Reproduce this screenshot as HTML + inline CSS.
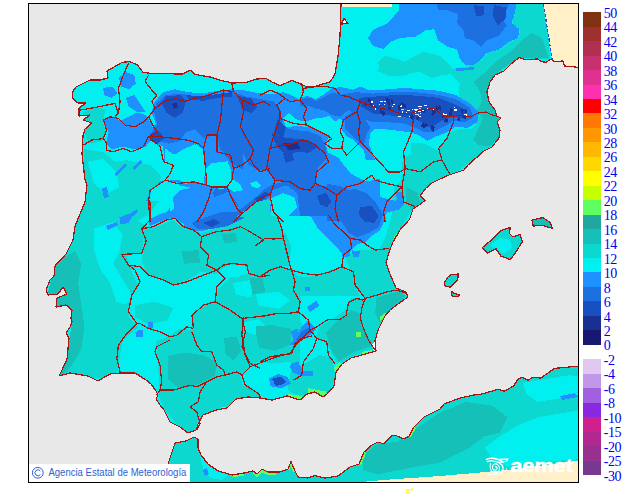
<!DOCTYPE html>
<html><head><meta charset="utf-8"><title>Temperatura</title>
<style>
html,body{margin:0;padding:0;background:#fff;}
body{width:630px;height:500px;overflow:hidden;position:relative;font-family:"Liberation Sans",sans-serif;}
svg{position:absolute;left:0;top:0;display:block;}
.lg text{font-family:"Liberation Serif",serif;font-size:14px;fill:#0000F0;letter-spacing:-0.45px;}
</style></head><body>
<svg width="630" height="500" viewBox="0 0 630 500" shape-rendering="crispEdges">
<defs><clipPath id="fr"><rect x="29" y="4" width="549" height="478"/></clipPath></defs>
<rect x="29" y="4" width="549" height="478" fill="#E8E8E8"/>
<g clip-path="url(#fr)" stroke-linejoin="round">
<clipPath id="land"><path d="M341,3 L340,36 L338,56 L335,74 L332,79 L330,82 L323,84 L313,87 L306,86.5 L302,84.5 L292,80.4 L280,85.6 L272,82 L266,78.4 L257,79 L246,82.4 L234,83 L223,81 L210,77 L195,74.4 L190,70 L183,74 L152,73.6 L143,72.4 L137,64.4 L129,61.6 L122,62.4 L115,66.4 L107,71 L108,78 L100,80 L90,80 L84,83 L76,87 L72.4,92 L73,99 L78,103 L86,103 L79,108 L79,116 L90,115 L83,120 L92,123 L85,129 L83,136 L82,154 L85,180 L87,185 L85,202 L80,214 L75,226 L73,240 L66,254 L55,266 L54,276 L50,280 L46,290 L48,295 L58,294 L63,287 L67,294 L57,298 L56,307 L66,305 L72,310 L71,318 L72,322 L70,327 L66,333 L69,338 L67,359 L62,370 L59,376 L70,373 L88,376 L98,381 L110,374 L120,373 L135,373 L146,380 L151,384 L156,391 L158,395 L156,399 L160,405 L164,410 L170,422 L180,427 L188,433 L196,430 L198,424 L203,415 L216,410 L227,408 L236,399 L248,397 L260,398 L272,400 L287,396 L300,400 L307,394 L315,392 L323,397 L327,394 L334,386 L336,372 L342,364 L351,358 L362,355 L376,351 L375,341 L378,330 L385,316 L390,310 L398,304 L408,297 L406,292 L396,288 L390,274 L386,263 L389,252 L393,242 L400,230 L409,220 L410,218 L413,209 L419,205 L425,200.4 L420,196 L426,188 L432,183 L440,179 L449,175 L464,170 L468,165 L476,158 L484,151 L492,147 L499,138 L500,130 L497,122 L501,118 L497,116 L495,110 L489,102 L487,92 L490,82 L495,75 L504,71 L511,64 L519,57.6 L526,59.6 L538,59 L540,61 L546,62.5 L551,59 L554,61.7 L563,61 L564.6,66 L579,67.4 L579,3Z"/><path d="M160,483 L168,464 L175,443 L186,441 L194,437 L198,439 L198,448 L201,455 L208,464 L218,471 L232,475 L244,473 L253,471 L257,474 L262,469 L268,472 L280,472 L288,469 L291,461.6 L295,471 L298,477 L308,478 L315,475.6 L325,478 L338,476 L350,467 L359,464 L364,452 L372,445 L378,442 L384,444 L391,436 L396,435.6 L404,439 L409,436 L414,427 L424,417 L440,409 L444,404 L460,398 L474,395 L480,394.5 L498.4,389.2 L504,391.3 L513.6,386 L518.4,378.8 L522.4,377.2 L528,380.4 L532,377.5 L540.8,378 L548.8,372.4 L554.4,368.4 L563.2,367.6 L579,366 L579,483Z"/><path d="M482.3,247.6 L492.4,239.2 L500.8,230.8 L510.4,227.2 L509.2,233.2 L512.8,236.8 L520,234.4 L522.4,241.6 L516.4,251.2 L510.4,259.6 L500.8,256 L496,248.8 L487.6,252.9Z"/><path d="M532,220 L542.8,217.6 L550,222.4 L552.4,228.4 L542.8,225.5 L533.2,226Z"/><path d="M444.4,282.4 L448,277 L451.6,274.5 L458.3,274 L457.6,280 L450.4,287.2 L445,286Z"/><path d="M451.6,291 L453,293 L460,295 L458,296.8 L452,296Z"/></clipPath>
<g clip-path="url(#land)">
<path d="M341,3 L340,36 L338,56 L335,74 L332,79 L330,82 L323,84 L313,87 L306,86.5 L302,84.5 L292,80.4 L280,85.6 L272,82 L266,78.4 L257,79 L246,82.4 L234,83 L223,81 L210,77 L195,74.4 L190,70 L183,74 L152,73.6 L143,72.4 L137,64.4 L129,61.6 L122,62.4 L115,66.4 L107,71 L108,78 L100,80 L90,80 L84,83 L76,87 L72.4,92 L73,99 L78,103 L86,103 L79,108 L79,116 L90,115 L83,120 L92,123 L85,129 L83,136 L82,154 L85,180 L87,185 L85,202 L80,214 L75,226 L73,240 L66,254 L55,266 L54,276 L50,280 L46,290 L48,295 L58,294 L63,287 L67,294 L57,298 L56,307 L66,305 L72,310 L71,318 L72,322 L70,327 L66,333 L69,338 L67,359 L62,370 L59,376 L70,373 L88,376 L98,381 L110,374 L120,373 L135,373 L146,380 L151,384 L156,391 L158,395 L156,399 L160,405 L164,410 L170,422 L180,427 L188,433 L196,430 L198,424 L203,415 L216,410 L227,408 L236,399 L248,397 L260,398 L272,400 L287,396 L300,400 L307,394 L315,392 L323,397 L327,394 L334,386 L336,372 L342,364 L351,358 L362,355 L376,351 L375,341 L378,330 L385,316 L390,310 L398,304 L408,297 L406,292 L396,288 L390,274 L386,263 L389,252 L393,242 L400,230 L409,220 L410,218 L413,209 L419,205 L425,200.4 L420,196 L426,188 L432,183 L440,179 L449,175 L464,170 L468,165 L476,158 L484,151 L492,147 L499,138 L500,130 L497,122 L501,118 L497,116 L495,110 L489,102 L487,92 L490,82 L495,75 L504,71 L511,64 L519,57.6 L526,59.6 L538,59 L540,61 L546,62.5 L551,59 L554,61.7 L563,61 L564.6,66 L579,67.4 L579,3Z" fill="#00F0F0"/>
<path d="M160,483 L168,464 L175,443 L186,441 L194,437 L198,439 L198,448 L201,455 L208,464 L218,471 L232,475 L244,473 L253,471 L257,474 L262,469 L268,472 L280,472 L288,469 L291,461.6 L295,471 L298,477 L308,478 L315,475.6 L325,478 L338,476 L350,467 L359,464 L364,452 L372,445 L378,442 L384,444 L391,436 L396,435.6 L404,439 L409,436 L414,427 L424,417 L440,409 L444,404 L460,398 L474,395 L480,394.5 L498.4,389.2 L504,391.3 L513.6,386 L518.4,378.8 L522.4,377.2 L528,380.4 L532,377.5 L540.8,378 L548.8,372.4 L554.4,368.4 L563.2,367.6 L579,366 L579,483Z" fill="#00F0F0"/>
<path d="M482.3,247.6 L492.4,239.2 L500.8,230.8 L510.4,227.2 L509.2,233.2 L512.8,236.8 L520,234.4 L522.4,241.6 L516.4,251.2 L510.4,259.6 L500.8,256 L496,248.8 L487.6,252.9Z" fill="#00F0F0"/>
<path d="M532,220 L542.8,217.6 L550,222.4 L552.4,228.4 L542.8,225.5 L533.2,226Z" fill="#00F0F0"/>
<path d="M444.4,282.4 L448,277 L451.6,274.5 L458.3,274 L457.6,280 L450.4,287.2 L445,286Z" fill="#00F0F0"/>
<path d="M451.6,291 L453,293 L460,295 L458,296.8 L452,296Z" fill="#00F0F0"/>
<path d="M515.6,2.5 L547.3,2.5 L549.8,59.7 L519.4,57.9 L506.7,66 L496.5,73.7 L488.9,83.8 L487.6,101.6 L496.5,111.7 L496.5,127 L476.2,127 L473.7,109.2 L466,101.6 L458.4,100.3 L459.7,83.8 L450.8,73.7 L453.3,68.6 L466,66.5 L481.3,61 L487.6,53.3 L500.3,49.5 L510.5,41.9 L518.9,38.1 L519.9,29.2 L512.3,22.9 L514.8,15.2Z" fill="#0CD8D0"/>
<path d="M377.1,71.1 L384.8,61 L400,66 L410.2,58.4 L422.9,52.1 L435.6,54.6 L448.3,63.5 L454.6,71.6 L445.7,75.4 L430.5,69.8 L415.2,72.4 L405.1,75.4 L389.8,76.2Z" fill="#0CD8D0"/>
<path d="M378,62 L384,56 L395,58 L405,62 L418,58 L424,52 L440,56 L446,62 L446,74 L432,78 L420,72 L405,72 L392,68 L380,68Z" fill="#0CD8D0"/>
<path d="M450.2,132.2 L458.8,129.4 L470.2,129.4 L478.8,123.6 L484.5,112.2 L496,112.2 L501.7,120.8 L500.3,136.5 L490.3,146.5 L478.8,155.1 L467.4,163.7 L455.9,172.3 L444.5,175.2 L440.2,160.9 L438.7,149.4 L444.5,140.8Z" fill="#0CD8D0"/>
<path d="M411.6,142.3 L424.4,143.7 L435.9,149.4 L438.7,158 L427.3,163.7 L415.9,166.6 L410.1,158Z" fill="#0CD8D0"/>
<path d="M401.5,175.2 L415.9,172.3 L433,166.6 L450.2,175.2 L430.2,183.7 L421.6,195.2 L425.9,200.9 L415.9,209.5 L404.4,206.6 L398.7,192.3Z" fill="#0CD8D0"/>
<path d="M82.9,112.2 L94.3,106.5 L105.8,109.4 L102.9,120.8 L105.8,132.3 L102.9,140.9 L91.5,143.7 L85.8,138Z" fill="#0CD8D0"/>
<path d="M142.9,230.1 L158.6,225.8 L172.9,220.1 L181.5,225.8 L201.5,232.9 L215.9,228.6 L230.2,224.4 L244.5,214.3 L255.9,207.2 L268.8,201.5 L273.1,211.5 L278.8,222.9 L284.5,234.4 L288.8,251.5 L290.3,265.9 L278.8,265.9 L264.5,274.4 L250.2,274.4 L244.5,265.9 L230.2,264.4 L221.6,268.7 L215.9,274.4 L201.5,271.6 L187.2,280.2 L172.9,284.5 L158.6,277.3 L147.2,274.4 L141.4,260.1 L144.3,245.8Z" fill="#0CD8D0"/>
<path d="M218.7,288.7 L230.2,277.3 L250.2,277.3 L273.1,268.7 L290.3,268.7 L296,283 L301.7,300.2 L298.8,314.5 L284.5,317.4 L267.4,314.5 L250.2,314.5 L238.7,317.4 L227.3,308.8 L215.9,300.2Z" fill="#0CD8D0"/>
<path d="M394.5,187.2 L403.1,178.6 L423.1,187.2 L420.2,202.9 L411.6,210.1 L403.1,224.4 L394.5,235.9 L390.2,250.2 L385.9,264.5 L393,281.6 L403.1,295.9 L365.9,295.9 L360.1,275.9 L365.9,264.5 L377.3,253 L385.9,235.9 L390.2,221.5 L393,207.2Z" fill="#0CD8D0"/>
<path d="M403.1,158.6 L414.5,152.9 L437.4,150 L460,150 L460,170 L448.8,174.3 L434.5,177.2 L417.4,184.3 L405.9,178.6 L401.6,167.2Z" fill="#0CD8D0"/>
<path d="M277.1,264.5 L291.4,270.2 L297.2,275.9 L308.6,277.3 L322.9,273.1 L341.5,267.3 L353,273.1 L354.4,284.5 L360.1,295.9 L277.1,295.9Z" fill="#0CD8D0"/>
<path d="M277.1,230.1 L285.7,233 L291.4,247.3 L288.6,264.5 L277.1,264.5Z" fill="#0CD8D0"/>
<path d="M84.5,149.1 L103.6,152.3 L122.7,168.2 L135.4,187.3 L122.7,209.5 L144.9,225.4 L141.7,254.1 L125.9,254.1 L132.2,273.1 L138.6,285.9 L129,301.7 L129,317.6 L138.6,327.2 L122.7,339.9 L116.3,378.1 L59.1,378.1 L70.2,336.7 L71.8,311.3 L55.9,304.9 L47.9,292.2 L54.3,266.8 L65.4,254.1 L75,228.6 L79.7,209.5Z" fill="#0CD8D0"/>
<path d="M135.4,304.9 L154.5,301.7 L173.5,308.1 L167.2,320.8 L148.1,324 L135.4,317.6Z" fill="#0CD8D0"/>
<path d="M192.6,320.8 L218.1,317.6 L230.8,327.2 L243.5,333.5 L243.5,362.2 L205.3,362.2 L199,339.9Z" fill="#0CD8D0"/>
<path d="M157.2,350.9 L155.6,341.3 L168.4,336.6 L179.5,328.6 L192.2,330.2 L192.2,315.9 L208.1,303.2 L214.5,300 L300,300 L300,363.6 L287.6,362 L271.7,363.6 L259,360.4 L249.4,368.4 L239.9,374.7 L243.1,385.9 L259,392.2 L259,397 L236.7,398.6 L227.2,406.5 L220.8,409.7 L208.1,411.3 L198.6,417.6 L195.4,430.4 L187.4,432 L176.3,424 L163.6,408.1 L158.8,395.4 L158.8,379.5Z" fill="#0CD8D0"/>
<path d="M319.5,326.3 L335.4,316.8 L344.9,310.4 L351.3,297.7 L364,300.9 L376.7,294.5 L399,289.7 L406.9,296.1 L386.3,313.6 L376.7,332.7 L373.5,348.6 L351.3,356.5 L338.6,364.5 L332.2,354.9 L325.9,342.2 L316.3,335.9Z" fill="#0CD8D0"/>
<path d="M344.9,256.4 L357.6,250 L389.4,250 L389.4,265.9 L395.8,285 L376.7,294.5 L364,297.7 L357.6,288.2 L351.3,272.3Z" fill="#0CD8D0"/>
<path d="M240,275.4 L255.9,272.3 L271.8,269.1 L290.9,272.3 L297.2,281.8 L294.1,294.5 L298.8,310.4 L278.2,313.6 L259.1,316.8 L240,318.4Z" fill="#0CD8D0"/>
<path d="M240,323.1 L259.1,320 L278.2,318.4 L297.2,316.8 L303.6,326.3 L294.1,339 L287.7,348.6 L271.8,354.9 L255.9,361.3 L246.4,367.6 L240,358.1Z" fill="#0CD8D0"/>
<path d="M290.9,370.8 L303.6,364.5 L319.5,354.9 L332.2,358.1 L335.4,377.2 L329,393.1 L313.1,393.1 L297.2,396.3 L287.7,389.9Z" fill="#0CD8D0"/>
<path d="M160,483 L168,464 L175,443 L186,441 L194,437 L198,439 L198,448 L201,455 L208,464 L218,471 L232,475 L244,473 L253,471 L257,474 L262,469 L268,472 L280,472 L288,469 L291,461.6 L295,471 L298,477 L308,478 L315,475.6 L325,478 L338,476 L350,467 L359,464 L364,452 L372,445 L378,442 L384,444 L391,436 L396,435.6 L404,439 L409,436 L414,427 L424,417 L440,409 L444,404 L460,398 L474,395 L480,394.5 L498.4,389.2 L504,391.3 L513.6,386 L518.4,378.8 L522.4,377.2 L528,380.4 L532,377.5 L540.8,378 L548.8,372.4 L554.4,368.4 L563.2,367.6 L579,366 L579,483Z" fill="#0CD8D0"/>
<path d="M482.3,247.6 L492.4,239.2 L500.8,230.8 L510.4,227.2 L509.2,233.2 L512.8,236.8 L520,234.4 L522.4,241.6 L516.4,251.2 L510.4,259.6 L500.8,256 L496,248.8 L487.6,252.9Z" fill="#0CD8D0"/>
<path d="M532,220 L542.8,217.6 L550,222.4 L552.4,228.4 L542.8,225.5 L533.2,226Z" fill="#14C0B8"/>
<path d="M444.4,282.4 L448,277 L451.6,274.5 L458.3,274 L457.6,280 L450.4,287.2 L445,286Z" fill="#0CD8D0"/>
<path d="M451.6,291 L453,293 L460,295 L458,296.8 L452,296Z" fill="#0CD8D0"/>
<path d="M100,165 L125,160 L150,165 L165,180 L160,200 L148,215 L130,225 L110,222 L100,200Z" fill="#0CD8D0"/>
<path d="M524.4,38.1 L532.1,33 L542.2,38.1 L548.6,58.4 L519.4,57.9 L506.7,66 L496.5,73.7 L488.9,83.8 L487.6,101.6 L496.5,111.7 L496.5,120.6 L485.1,120.6 L476.2,111.7 L481.8,101.6 L480,91.4 L473.7,81.3 L483.8,73.7 L496.5,61 L511.7,50.8Z" fill="#14C0B8"/>
<path d="M484.5,113.6 L496,113.6 L501.1,120.8 L500.3,136.5 L490.3,146.5 L478.8,145.1 L473.1,139.4 L478.8,127.9Z" fill="#14C0B8"/>
<path d="M233,283 L250.2,280.2 L255.9,288.7 L250.2,297.3 L235.9,294.5Z" fill="#00F0F0"/>
<path d="M255.9,294.5 L278.8,291.6 L290.3,300.2 L278.8,308.8 L258.8,305.9Z" fill="#00F0F0"/>
<path d="M221.6,234.4 L235.9,232.9 L237.3,241.5 L224.4,243.5Z" fill="#14C0B8"/>
<path d="M181.5,251.5 L198.7,250.1 L200.1,263 L184.4,263.6Z" fill="#14C0B8"/>
<path d="M405.9,187.2 L417.4,192.9 L420.2,202.9 L411.6,210.1 L405.9,201.5Z" fill="#14C0B8"/>
<path d="M394.5,235.9 L397.3,233 L395.9,240.1 L393,243Z" fill="#60FF60"/>
<path d="M94.1,228.6 L113.1,222.3 L122.7,235 L119.5,250.9 L113.1,263.6 L122.7,279.5 L132.2,295.4 L125.9,304.9 L116.3,301.7 L110,282.7 L100.4,270 L94.1,250.9Z" fill="#00F0F0"/>
<path d="M87.7,161.8 L103.6,158.7 L116.3,171.4 L119.5,187.3 L106.8,193.6 L94.1,184.1Z" fill="#00F0F0"/>
<path d="M54.3,268.4 L65.4,257.2 L75,250.9 L81.3,263.6 L78.2,282.7 L81.3,304.9 L84.5,327.2 L81.3,349.4 L71.8,365.3 L59.1,378.1 L70.2,336.7 L71.8,311.3 L55.9,304.9 L47.9,292.2Z" fill="#14C0B8"/>
<path d="M243.1,322.3 L259,319.1 L265.3,325.4 L255.8,335 L246.3,331.8Z" fill="#00F0F0"/>
<path d="M168.4,355.6 L185.9,352.5 L204.9,355.6 L217.6,363.6 L214.5,376.3 L195.4,385.9 L179.5,389 L168.4,379.5Z" fill="#14C0B8"/>
<path d="M224,338.2 L236.7,336.6 L241.5,350.9 L233.5,360.4 L225.6,354.1Z" fill="#14C0B8"/>
<path d="M255.8,331.8 L271.7,325.4 L290.8,328.6 L290.8,344.5 L274.9,350.9 L259,347.7Z" fill="#14C0B8"/>
<path d="M325.9,332.7 L338.6,320 L351.3,310.4 L360.8,313.6 L364,329.5 L373.5,345.4 L354.5,351.7 L338.6,361.3 L330.6,348.6Z" fill="#14C0B8"/>
<path d="M376.7,297.7 L399,291.3 L405.3,296.1 L386.3,313.6 L379.9,323.1 L375.1,313.6Z" fill="#14C0B8"/>
<path d="M249.5,278.6 L262.3,277 L265.4,291.3 L252.7,294.5Z" fill="#14C0B8"/>
<path d="M255.9,326.3 L275,324.7 L281.3,335.9 L268.6,345.4 L257.5,342.2Z" fill="#14C0B8"/>
<path d="M362.9,455.2 L378.1,443.8 L397.1,441.9 L416.2,428.6 L439,413.3 L465.7,401.9 L492.4,405.7 L507.6,417.1 L500,432.4 L484.8,436.2 L469.5,447.6 L454.3,455.2 L439,462.9 L416.2,466.7 L397.1,470.5 L378.1,474.3 L362.9,470.5Z" fill="#14C0B8"/>
<path d="M500,436.2 L519,424.8 L538.1,417.1 L561,413.3 L583.8,409.5 L583.8,459 L553.3,461 L530.5,462.9 L507.6,466.7 L492.4,459 L484.8,447.6Z" fill="#00F0F0"/>
<path d="M522.9,382.9 L545.7,379 L568.6,375.2 L583.8,377.1 L583.8,394.3 L561,398.1 L538.1,401.9 L526.7,394.3Z" fill="#00F0F0"/>
<path d="M200,456 L206,452 L212,462 L220,470 L228,474 L222,480 L210,478 L203,468Z" fill="#00F0F0"/>
<path d="M490,245 L500,238 L510,240 L512,248 L504,254 L496,250Z" fill="#00F0F0"/>
<path d="M398.7,2.5 L398.7,38.1 L415.2,36.8 L425.4,30.5 L434.3,29.2 L438.1,40.6 L448.3,47 L457.1,49.5 L459.7,58.4 L464.8,64.8 L473.7,64.8 L481.3,59.7 L486.3,53.3 L499,49.5 L509.2,41.9 L518.1,38.1 L519.4,29.2 L511.7,22.9 L514.3,15.2 L516.8,2.5Z" fill="#1E90FF"/>
<path d="M455.9,68.1 L473.7,67.3 L473.7,69.8 L455.9,71.1Z" fill="#1E90FF"/>
<path d="M400,3 L400,9 L388,23 L373,30 L368,38 L373,46 L384,49 L390,42 L400,38 L400,3Z" fill="#1E90FF"/>
<path d="M358.6,87.9 L370.1,90.7 L387.2,89.3 L404.4,87.9 L421.6,89.3 L438.7,90.7 L455.9,95 L470.2,103.6 L478.8,112.2 L477.4,122.2 L467.4,127.9 L455.9,126.5 L447.3,132.2 L435.9,136.5 L427.3,140.8 L418.7,135.1 L410.1,132.2 L398.7,130.8 L387.2,129.4 L375.8,129.4 L367.2,126.5 L358.6,132.2Z" fill="#1E90FF"/>
<path d="M327.1,152.3 L338.6,158 L347.2,169.4 L355.8,180.9 L364.3,186.6 L372.9,195.2 L384.4,198.1 L395.8,200.9 L401.5,195.2 L404.4,203.8 L398.7,209.5 L387.2,212.4 L381.5,220.9 L327.1,220.9Z" fill="#1E90FF"/>
<path d="M197.1,94.3 L214.3,91.5 L228.6,92.9 L242.9,90 L257.2,92.9 L271.5,94.3 L283,92.3 L291.6,95.2 L300.2,99.5 L308.7,103.8 L317.3,102.1 L325.9,97.8 L334.5,92.3 L334.5,112.9 L325.9,117.2 L314.5,118.6 L305.9,121.5 L297.3,120.1 L288.7,112.9 L283,118.6 L285.9,127.2 L297.3,125.8 L308.7,127.2 L320.2,131.5 L328.8,137.3 L325.9,144.4 L328.8,155.9 L334.5,164.4 L343.1,167.3 L354.5,175.9 L366,181.6 L380,178.7 L380,215.9 L197.1,215.9Z" fill="#1E90FF"/>
<path d="M300,97.6 L308,96 L316,99.2 L324,94.4 L332,88 L341.6,87.2 L352.8,89.6 L360.8,86.4 L367.2,89.6 L376.8,91.2 L400,91.2 L400,121.6 L394.4,126.4 L386.4,129.6 L375.2,128 L370.4,132.8 L368.8,144 L372,152 L375.2,160 L365.6,160 L364,150.4 L357.6,144 L352.8,139.2 L346.4,136 L341.6,129.6 L343.2,121.6 L340,118.4 L335.2,121.6 L330.4,116.8 L324,112 L317.6,110.4 L311.2,107.2 L304.8,108.8 L300,107.2Z" fill="#1E90FF"/>
<path d="M154.4,102.2 L163,92.2 L174.5,89.3 L188.8,92.2 L203.1,93.6 L217.4,90.8 L231.7,89.3 L243.2,90.8 L243.2,200.9 L145.9,200.9 L151.6,189.5 L160.2,180.9 L164.5,160.9 L163,146.6 L151.6,140.9 L148.7,132.3 L155.9,123.7 L151.6,112.2Z" fill="#1E90FF"/>
<path d="M118.7,77.9 L125.8,72.2 L134.4,75 L135.8,83.6 L128.7,89.3 L121.5,86.5Z" fill="#1E90FF"/>
<path d="M102.9,87.9 L112.9,86.5 L117.2,93.6 L111.5,97.9 L104.4,95.1Z" fill="#1E90FF"/>
<path d="M102.9,120.8 L111.5,116.5 L120.1,120.8 L128.7,116.5 L137.3,112.2 L145.9,115.1 L151.6,123.7 L154.4,135.1 L145.9,146.6 L134.4,149.4 L123,146.6 L111.5,149.4 L105.8,143.7 L108.6,132.3Z" fill="#1E90FF"/>
<path d="M125.8,97.9 L134.4,95.1 L140.1,103.6 L145.9,112.2 L137.3,112.2 L128.7,106.5Z" fill="#1E90FF"/>
<path d="M150,225.8 L148.6,220.1 L155.8,215.8 L167.2,211.5 L172.9,202.9 L175.8,192.9 L182.9,185.7 L190.1,177.1 L313.2,177.1 L313.2,192.9 L301.7,187.2 L284.5,184.3 L273.1,188.6 L267.4,194.3 L255.9,201.5 L250.2,207.2 L241.6,214.3 L230.2,222.9 L215.9,227.2 L201.5,231.5 L190.1,230.1 L181.5,224.4 L172.9,217.2 L164.3,220.1Z" fill="#1E90FF"/>
<path d="M277.1,147.1 L325.8,147.1 L330.1,158.6 L337.2,167.2 L348.7,175.8 L357.3,181.5 L365.9,185.8 L374.4,195.8 L383,207.2 L385.9,218.7 L380.2,230.1 L371.6,235.9 L365.9,241.6 L357.3,244.4 L351.5,250.2 L348.7,255.9 L341.5,253 L334.4,244.4 L325.8,235.9 L317.2,227.3 L311.5,217.3 L302.9,211.5 L294.3,210.1 L285.7,213 L277.1,207.2Z" fill="#1E90FF"/>
<path d="M395.9,192.9 L401.6,191.5 L403.1,200.1 L397.3,201.5Z" fill="#1E90FF"/>
<path d="M351.5,250.2 L360.1,251.6 L358.7,257.3 L353,256.5Z" fill="#1E90FF"/>
<path d="M119.5,217.5 L127.4,214.3 L129,219.1 L121.1,222.3Z" fill="#1E90FF"/>
<path d="M135.4,332 L141.7,330.4 L142.4,336.7 L136,337.4Z" fill="#1E90FF"/>
<path d="M148.1,324 L151.9,324 L151.9,328.8 L148.1,328.8Z" fill="#1E90FF"/>
<path d="M138.2,330.2 L142.9,330.2 L142.9,336.6 L138.2,336.6Z" fill="#1E90FF"/>
<path d="M147.7,322.3 L152.5,322.3 L152.5,328 L147.7,328Z" fill="#1E90FF"/>
<path d="M270.1,377.9 L278.1,374.7 L287.6,377.9 L289.2,384.3 L278.1,387.4 L270.1,385.9Z" fill="#1E90FF"/>
<path d="M290.8,363.6 L298.7,362 L300,370 L292.4,371.5Z" fill="#1E90FF"/>
<path d="M290.8,331.8 L297.1,328.6 L300,335 L294,341.3Z" fill="#1E90FF"/>
<path d="M289.3,345.4 L295.6,335.9 L302,326.3 L308.4,320 L316.3,329.5 L310,335.9 L302,339 L295.6,345.4Z" fill="#1E90FF"/>
<path d="M306.8,307.2 L316.3,300.9 L319.5,305.6 L310,312Z" fill="#1E90FF"/>
<path d="M305.2,286.6 L310,286.6 L310,291.3 L305.2,291.3Z" fill="#1E90FF"/>
<path d="M289.3,366.1 L297.2,361.3 L303.6,370.8 L313.1,370.8 L313.1,375.6 L300.4,375.6 L292.5,372.4Z" fill="#1E90FF"/>
<path d="M268.6,378.8 L278.2,374 L287.7,377.2 L290.9,383.5 L281.3,388.3 L271.8,386.7Z" fill="#1E90FF"/>
<path d="M341.7,250 L349.7,250 L349.7,256.4 L342.4,257Z" fill="#1E90FF"/>
<path d="M203,470 L207,468 L209,474 L205,476Z" fill="#1E90FF"/>
<path d="M560,396 L575,393 L578,397 L562,400Z" fill="#1E90FF"/>
<path d="M114,174 L124,164 L127,165 L117,176Z" fill="#1E90FF"/>
<path d="M102,188 L107,187 L109,197 L104,198Z" fill="#1E90FF"/>
<path d="M120,220 L136,210 L138,212 L124,223Z" fill="#1E90FF"/>
<path d="M106,226 L117,222 L118,225 L108,230Z" fill="#1E90FF"/>
<path d="M132,168 L140,160 L142,162 L135,170Z" fill="#1E90FF"/>
<path d="M436.8,2.5 L438.1,10.2 L447,10.2 L458.4,14 L457.1,22.9 L463.5,30.5 L464.8,38.1 L473.7,40.6 L481.3,47 L486.3,40.6 L499,35.6 L506.7,25.4 L501.6,17.8 L506.7,10.2 L509.2,2.5Z" fill="#1C70E0"/>
<path d="M338.6,95 L355.8,92.2 L372.9,93.6 L393,92.2 L415.9,92.2 L438.7,95 L455.9,99.3 L470.2,107.9 L473.1,117.9 L464.5,122.2 L453.1,120.8 L444.5,126.5 L433,132.2 L424.4,132.2 L415.9,127.9 L404.4,123.6 L387.2,122.2 L372.9,122.2 L361.5,117.9 L352.9,112.2 L341.4,106.5 L332.9,103.6Z" fill="#1C70E0"/>
<path d="M327.1,183.7 L341.4,186.6 L352.9,192.3 L364.3,198.1 L372.9,206.6 L375.8,220.9 L327.1,220.9Z" fill="#1C70E0"/>
<path d="M220,98.6 L242.9,95.8 L257.2,98.6 L274.4,101.5 L280.1,112.9 L283,127.2 L294.4,130.1 L308.7,131.5 L320.2,135.8 L325.9,147.3 L325.9,158.7 L317.3,167.3 L314.5,184.5 L325.9,187.3 L334.5,195.9 L337.4,215.9 L300.2,215.9 L297.3,193.1 L285.9,184.5 L274.4,178.7 L268.7,170.2 L257.2,170.2 L248.6,164.4 L242.9,153 L237.2,141.5 L228.6,153 L220,150.1 L217.2,133 L220,115.8Z" fill="#1C70E0"/>
<path d="M344.8,116.8 L352.8,112 L364,116.8 L370.4,128 L367.2,132.8 L364,144 L357.6,140.8 L351.2,134.4 L344.8,128Z" fill="#1C70E0"/>
<path d="M300,99.2 L309.6,97.6 L316,100.8 L325.6,96 L332,92.8 L340,94.4 L348,99.2 L352.8,104 L348,110.4 L340,116.8 L332,115.2 L324,110.4 L316,108.8 L308,105.6 L300,106.4Z" fill="#1C70E0"/>
<path d="M155.9,103.6 L165.9,95.1 L180.2,93.6 L194.5,96.5 L208.8,95.1 L223.1,93.6 L231.7,92.2 L243.2,95.1 L243.2,169.5 L231.7,163.7 L223.1,152.3 L220.3,140.9 L214.5,135.1 L203.1,138 L194.5,129.4 L185.9,132.3 L180.2,140.9 L168.7,143.7 L157.3,140.9 L151.6,132.3 L157.3,123.7 L154.4,112.2Z" fill="#1C70E0"/>
<path d="M190.1,222.9 L195.8,214.3 L204.4,205.8 L210.1,197.2 L215.9,188.6 L224.4,187.2 L233,197.2 L238.7,205.8 L235.9,214.3 L227.3,220.1 L215.9,225.8 L201.5,230.1Z" fill="#1C70E0"/>
<path d="M253.1,201.5 L261.6,191.4 L270.2,185.7 L278.8,182.9 L296,184.3 L310,190 L310,192.9 L301.7,188.6 L284.5,185.7 L273.1,190 L264.5,197.2 L255.9,204.3Z" fill="#1C70E0"/>
<path d="M277.1,147.1 L322.9,147.1 L327.2,158.6 L318.6,167.2 L311.5,175.8 L300,178.6 L288.6,175.8 L277.1,178.6Z" fill="#1C70E0"/>
<path d="M317.2,187.2 L328.6,185.8 L337.2,195.8 L337.2,210.1 L330.1,218.7 L322.9,213 L315.8,201.5Z" fill="#1C70E0"/>
<path d="M341.5,192.9 L354.4,188.6 L365.9,192.9 L375.9,202.9 L383,214.4 L378.7,227.3 L368.7,233 L357.3,237.3 L348.7,233 L341.5,221.5 L337.2,207.2Z" fill="#1C70E0"/>
<path d="M295.6,340.6 L302,331.1 L308.4,327.9 L311.5,332 L303.6,336.5 L298.8,342.2Z" fill="#1C70E0"/>
<path d="M473.7,5.1 L483.8,6.3 L483.8,15.2 L476.2,16.5Z" fill="#1850C0"/>
<path d="M494,5.1 L506.7,7.6 L505.4,19 L497.8,25.4 L492.7,15.2Z" fill="#1850C0"/>
<path d="M358.6,97.9 L375.8,96.5 L395.8,95 L415.9,95.6 L438.7,97.9 L453.1,103.6 L467.4,110.8 L464.5,117.9 L453.1,116.5 L441.6,120.8 L430.2,127.9 L424.4,123.6 L415.9,119.4 L401.5,116.5 L387.2,115.1 L372.9,113.6 L361.5,106.5Z" fill="#1850C0"/>
<path d="M237.2,95.8 L251.5,98.6 L257.2,107.2 L251.5,112.9 L242.9,110.1Z" fill="#1850C0"/>
<path d="M271.5,133 L283,137.3 L294.4,138.7 L308.7,140.1 L317.3,147.3 L308.7,153 L297.3,151.6 L288.7,155.9 L280.1,150.1 L274.4,141.5Z" fill="#1850C0"/>
<path d="M277.3,118.6 L285.9,127.2 L283,137.3 L274.4,133Z" fill="#1850C0"/>
<path d="M165.9,96.5 L180.2,95.1 L185.9,100.8 L183.1,112.2 L174.5,118 L165.9,112.2 L161.6,103.6Z" fill="#1850C0"/>
<path d="M185.9,95.1 L203.1,96.5 L220.3,93.6 L231.7,92.2 L231.7,96.5 L217.4,97.9 L203.1,100.8 L188.8,99.4Z" fill="#1850C0"/>
<path d="M150.1,133.7 L158.7,130.8 L164.5,138 L157.3,143.7 L150.1,140.9Z" fill="#1850C0"/>
<path d="M195.8,222.9 L204.4,217.2 L213,214.3 L218.7,220.1 L213,225.8 L201.5,227.2Z" fill="#1850C0"/>
<path d="M360.1,207.2 L371.6,205.8 L378.7,215.8 L374.4,223 L364.4,221.5 L358.7,214.4Z" fill="#1850C0"/>
<path d="M317.2,195.8 L325.8,192.9 L331.5,201.5 L327.2,207.2 L320.1,204.4Z" fill="#1850C0"/>
<path d="M282.9,152.9 L291.4,151.4 L294.3,160 L285.7,162.9Z" fill="#1850C0"/>
<path d="M273.3,379.5 L282.8,378.9 L284.4,384.3 L274.9,385.2Z" fill="#1850C0"/>
<path d="M271.8,378.8 L281.3,376.6 L286.1,382 L276.6,386.1Z" fill="#1850C0"/>
<path d="M283,143 L297.3,143 L300.2,148.7 L288.7,150.1Z" fill="#183090"/>
<path d="M172.2,103.6 L176.8,102.8 L177.9,107.1 L173.9,109.4Z" fill="#183090"/>
<path d="M205.8,220.1 L213,218.6 L215.9,222.9 L208.7,224.4Z" fill="#183090"/>
<path d="M368,98.1 L371,99.4 L369.8,102.4 L367.2,100.7Z" fill="#183090"/>
<path d="M370.4,101 L372.3,102.7 L371.5,106.8 L369.8,104.5Z" fill="#183090"/>
<path d="M364.9,101.9 L366.8,103.2 L366,106.2 L364.3,104.5Z" fill="#183090"/>
<path d="M380.3,109.2 L382.3,110.6 L381.5,114 L379.7,112Z" fill="#183090"/>
<path d="M382.5,110.9 L385.3,112.5 L384.2,116.3 L381.7,114.2Z" fill="#183090"/>
<path d="M386.4,97.9 L389.7,99.4 L388.4,102.9 L385.4,100.9Z" fill="#183090"/>
<path d="M387.9,99.9 L390.3,102 L389.3,106.8 L387.3,104Z" fill="#183090"/>
<path d="M388.3,106.1 L391.2,107.7 L390,111.4 L387.4,109.3Z" fill="#183090"/>
<path d="M391.5,99.2 L393.4,100.6 L392.7,103.9 L391,102Z" fill="#183090"/>
<path d="M403.9,103.1 L406.2,104.9 L405.3,109.2 L403.2,106.7Z" fill="#183090"/>
<path d="M401.1,101.7 L404.3,103.6 L403,108.1 L400.1,105.6Z" fill="#183090"/>
<path d="M398.5,104.7 L401.3,106.8 L400.2,111.8 L397.7,109Z" fill="#183090"/>
<path d="M422.2,108.8 L425.7,110.2 L424.3,113.3 L421.1,111.5Z" fill="#183090"/>
<path d="M417,115.1 L419,116.8 L418.2,120.8 L416.4,118.5Z" fill="#183090"/>
<path d="M410.7,113.9 L413.8,115.7 L412.5,119.9 L409.7,117.5Z" fill="#183090"/>
<path d="M436.4,105.4 L439.4,107.3 L438.2,111.5 L435.5,109.1Z" fill="#183090"/>
<path d="M433.1,107.7 L436.4,109.9 L435.1,115 L432.1,112.1Z" fill="#183090"/>
<path d="M431.9,110.9 L433.8,112.8 L433.1,117.4 L431.4,114.8Z" fill="#183090"/>
<path d="M445,118.2 L448.2,119.7 L446.9,123.2 L444,121.2Z" fill="#183090"/>
<path d="M442.1,113.2 L443.9,114.9 L443.2,118.8 L441.5,116.6Z" fill="#183090"/>
<path d="M439.6,104.6 L441.5,106.6 L440.8,111.3 L439.1,108.6Z" fill="#183090"/>
<path d="M450.3,107.5 L452.8,109.6 L451.8,114.6 L449.6,111.7Z" fill="#183090"/>
<path d="M449.8,110.4 L452.5,112.5 L451.4,117.5 L449,114.7Z" fill="#183090"/>
<path d="M458,116.4 L460.3,118 L459.4,121.8 L457.3,119.7Z" fill="#183090"/>
<path d="M463.2,115 L466.7,116.3 L465.3,119.5 L462.1,117.7Z" fill="#183090"/>
<path d="M461.6,108.4 L463.8,110.1 L462.9,114.2 L460.9,111.9Z" fill="#183090"/>
<path d="M465.2,108.7 L467,110.4 L466.3,114.2 L464.7,112Z" fill="#183090"/>
<path d="M422.1,122.4 L425.6,124.3 L424.2,128.9 L421.1,126.3Z" fill="#183090"/>
<path d="M424.7,123 L427.7,124.2 L426.5,127.2 L423.8,125.5Z" fill="#183090"/>
<path d="M431.5,124.8 L434.9,126.8 L433.5,131.6 L430.5,128.9Z" fill="#183090"/>
<path d="M204.3,170.2 L211.4,163 L225.8,161.6 L231.5,170.2 L230,181.6 L220,187.3 L207.2,185.9Z" fill="#00F0F0"/>
<path d="M270.1,198.8 L283,193.1 L294.4,197.3 L297.3,207.4 L288.7,215.9 L271.5,215.9Z" fill="#00F0F0"/>
<path d="M164.5,148 L174.5,155.2 L183.1,149.4 L194.5,144.3 L203.1,149.4 L203.1,169.5 L197.4,180.9 L185.9,183.8 L177.3,178.1 L168.7,180.9 L160.2,180.9 L164.5,160.9Z" fill="#00F0F0"/>
<path d="M151.6,189.5 L163,180.9 L177.3,182.3 L183.1,189.5 L174.5,200.9 L148.7,200.9Z" fill="#00F0F0"/>
<path d="M170,155 L184,153 L191,146 L197,144 L203,151 L205,168 L204,184 L190,183 L178,180 L170,180Z" fill="#00F0F0"/>
<path d="M206,171 L213,165 L223,166 L227,160 L231,170 L230,178 L234,180 L240,184 L243,190 L234,192 L228,188 L220,189 L210,187 L206,180Z" fill="#00F0F0"/>
<path d="M170,188 L182,186 L192,188 L195,196 L188,200 L180,198 L174,214 L170,214Z" fill="#00F0F0"/>
<path d="M174,218 L182,214 L186,219 L184,226 L178,225Z" fill="#00F0F0"/>
<path d="M250,183 L256,181 L261,185 L258,188 L252,187Z" fill="#00F0F0"/>
<path d="M220.8,407.5 L227.2,406.5 L227.2,409.7 L220.8,410.7Z" fill="#60FF60"/>
<path d="M287.6,393.8 L298.7,395.4 L298.7,397.9 L287.6,396.3Z" fill="#60FF60"/>
<path d="M308.4,388.3 L325.9,391.5 L325.9,396.3 L308.4,393.1Z" fill="#60FF60"/>
<path d="M333.8,367.6 L340.2,361.3 L341.1,365.1 L335.4,372.4Z" fill="#60FF60"/>
<path d="M356.1,332 L360.8,332 L360.8,336.5 L356.1,336.5Z" fill="#60FF60"/>
<path d="M362.4,351.7 L372,350.2 L372,353.3 L362.4,354.9Z" fill="#60FF60"/>
<path d="M379.9,316.8 L386.3,312 L385.6,315.2 L380.5,321.5Z" fill="#60FF60"/>
<path d="M287.7,394.7 L303.6,396.9 L303.6,399.4 L287.7,397.9Z" fill="#60FF60"/>
<path d="M372,343.8 L375.1,342.2 L375.8,351.1 L372.9,350.2Z" fill="#FFFFFF"/>
<path d="M172.9,197.2 L180.1,190.1 L194.4,187.2 L205.9,187.2 L211.6,190.1 L214.4,197.2 L228.7,191.5 L237.3,205.8 L240.2,214.4 L234.5,223 L228.7,225.9 L214.4,228.7 L200.1,230.1 L191.5,225.9 L181.5,223 L174.4,217.3 L162.9,220.1 L154.3,223 L148.6,225.9 L151.5,218.7 L165.8,214.4 L174.4,208.7Z" fill="#1E90FF"/>
<path d="M120,217.3 L131.4,213 L137.2,208.7 L128.6,223 L120,224.4Z" fill="#1E90FF"/>
<path d="M253,471.5 L257,474.5 L262,470 L268,473 L276,473.5 L276,475.5 L268,475 L262,472.5 L257,477 L253,473.5Z" fill="#60FF60"/>
<path d="M288,469.5 L291,462 L294,470 L296,473 L293,472 L291,466 L289,471Z" fill="#60FF60"/>
<path d="M359,464 L364,452 L366,453 L361,465Z" fill="#60FF60"/>
<path d="M409,436 L414,427 L416,428 L411,437Z" fill="#60FF60"/>
<path d="M232,475.5 L244,473.5 L244,475.5 L232,477.5Z" fill="#60FF60"/>
<path d="M334,386 L336,372 L338,373 L336,386Z" fill="#60FF60"/>
<path d="M191.5,223 L205.9,217.3 L223,211.5 L237.3,211.5 L248.8,203 L257.4,195.8 L268.8,188.6 L271.7,194.4 L263.1,201.5 L254.5,208.7 L243.1,218.7 L228.7,225.9 L211.6,228.7 L197.3,228.7Z" fill="#1C70E0"/>
<path d="M203,223 L214.4,218.7 L220.2,223 L211.6,227.3Z" fill="#1850C0"/>
<path d="M254.5,198.7 L265.9,191.5 L268.8,194.4 L258.8,203Z" fill="#1850C0"/>
<path d="M378.5,103.7 L379.5,103.7 L379.5,104.7 L378.5,104.7Z" fill="#FFFFFF"/>
<path d="M384.4,100.7 L385.4,100.7 L385.4,101.7 L384.4,101.7Z" fill="#FFFFFF"/>
<path d="M379.7,101.1 L382.7,101.1 L382.7,102.1 L379.7,102.1Z" fill="#FFFFFF"/>
<path d="M371.4,105.1 L374.4,105.1 L374.4,106.1 L371.4,106.1Z" fill="#FFFFFF"/>
<path d="M392.1,105.6 L393.1,105.6 L393.1,106.6 L392.1,106.6Z" fill="#FFFFFF"/>
<path d="M383.9,101.4 L385.9,101.4 L385.9,102.4 L383.9,102.4Z" fill="#FFFFFF"/>
<path d="M383.6,104.3 L384.6,104.3 L384.6,105.3 L383.6,105.3Z" fill="#FFFFFF"/>
<path d="M393.2,104.3 L395.2,104.3 L395.2,105.3 L393.2,105.3Z" fill="#FFFFFF"/>
<path d="M371,101 L373,101 L373,103 L371,103Z" fill="#FFFFFF"/>
<path d="M375.4,107.5 L376.4,107.5 L376.4,109.5 L375.4,109.5Z" fill="#FFFFFF"/>
<path d="M398.4,116 L401.4,116 L401.4,117 L398.4,117Z" fill="#FFFFFF"/>
<path d="M401.7,111.1 L402.7,111.1 L402.7,113.1 L401.7,113.1Z" fill="#FFFFFF"/>
<path d="M405.7,112.3 L406.7,112.3 L406.7,114.3 L405.7,114.3Z" fill="#FFFFFF"/>
<path d="M420.3,110.8 L421.3,110.8 L421.3,111.8 L420.3,111.8Z" fill="#FFFFFF"/>
<path d="M418.4,110.9 L421.4,110.9 L421.4,111.9 L418.4,111.9Z" fill="#FFFFFF"/>
<path d="M414.7,111.9 L415.7,111.9 L415.7,112.9 L414.7,112.9Z" fill="#FFFFFF"/>
<path d="M419.6,113.4 L420.6,113.4 L420.6,114.4 L419.6,114.4Z" fill="#FFFFFF"/>
<path d="M411.6,108.8 L412.6,108.8 L412.6,109.8 L411.6,109.8Z" fill="#FFFFFF"/>
<path d="M418.8,110.2 L419.8,110.2 L419.8,112.2 L418.8,112.2Z" fill="#FFFFFF"/>
<path d="M413.9,108.7 L415.9,108.7 L415.9,109.7 L413.9,109.7Z" fill="#FFFFFF"/>
<path d="M399.9,105.8 L401.9,105.8 L401.9,106.8 L399.9,106.8Z" fill="#FFFFFF"/>
<path d="M406.8,110.3 L409.8,110.3 L409.8,111.3 L406.8,111.3Z" fill="#FFFFFF"/>
<path d="M410.6,112.4 L411.6,112.4 L411.6,114.4 L410.6,114.4Z" fill="#FFFFFF"/>
<path d="M401,109.2 L402,109.2 L402,110.2 L401,110.2Z" fill="#FFFFFF"/>
<path d="M421.5,109.8 L423.5,109.8 L423.5,110.8 L421.5,110.8Z" fill="#FFFFFF"/>
<path d="M419.1,116.2 L421.1,116.2 L421.1,117.2 L419.1,117.2Z" fill="#FFFFFF"/>
<path d="M408.5,115.9 L409.5,115.9 L409.5,116.9 L408.5,116.9Z" fill="#FFFFFF"/>
<path d="M424.3,104.9 L427.3,104.9 L427.3,105.9 L424.3,105.9Z" fill="#FFFFFF"/>
<path d="M419.3,106.3 L422.3,106.3 L422.3,107.3 L419.3,107.3Z" fill="#FFFFFF"/>
<path d="M415.3,108.8 L418.3,108.8 L418.3,110.8 L415.3,110.8Z" fill="#FFFFFF"/>
<path d="M401.3,104.7 L402.3,104.7 L402.3,106.7 L401.3,106.7Z" fill="#FFFFFF"/>
<path d="M417.8,106.2 L418.8,106.2 L418.8,107.2 L417.8,107.2Z" fill="#FFFFFF"/>
<path d="M400.6,108.9 L403.6,108.9 L403.6,109.9 L400.6,109.9Z" fill="#D8C8F0"/>
<path d="M417,109.8 L420,109.8 L420,110.8 L417,110.8Z" fill="#D8C8F0"/>
<path d="M418.5,107.7 L420.5,107.7 L420.5,108.7 L418.5,108.7Z" fill="#D8C8F0"/>
<path d="M414.7,113.6 L417.7,113.6 L417.7,114.6 L414.7,114.6Z" fill="#D8C8F0"/>
<path d="M418.4,114.1 L419.4,114.1 L419.4,116.1 L418.4,116.1Z" fill="#D8C8F0"/>
<path d="M428.4,107.5 L430.4,107.5 L430.4,108.5 L428.4,108.5Z" fill="#FFFFFF"/>
<path d="M433.4,108.5 L434.4,108.5 L434.4,109.5 L433.4,109.5Z" fill="#FFFFFF"/>
<path d="M428.2,107.9 L429.2,107.9 L429.2,109.9 L428.2,109.9Z" fill="#FFFFFF"/>
<path d="M427.4,108.2 L430.4,108.2 L430.4,110.2 L427.4,110.2Z" fill="#FFFFFF"/>
<path d="M443.9,114.2 L446.9,114.2 L446.9,115.2 L443.9,115.2Z" fill="#FFFFFF"/>
<path d="M442.9,112.8 L443.9,112.8 L443.9,114.8 L442.9,114.8Z" fill="#FFFFFF"/>
<path d="M453.9,106.9 L454.9,106.9 L454.9,107.9 L453.9,107.9Z" fill="#FFFFFF"/>
<path d="M453.5,109.4 L456.5,109.4 L456.5,111.4 L453.5,111.4Z" fill="#FFFFFF"/>
<path d="M463.6,114.1 L466.6,114.1 L466.6,116.1 L463.6,116.1Z" fill="#FFFFFF"/>
<path d="M466.3,114.6 L467.3,114.6 L467.3,116.6 L466.3,116.6Z" fill="#FFFFFF"/>
<path d="M236.4,217 L241,213.5 L246.5,208.9 L256.2,202.1 L269.4,199 L270.9,217Z" fill="#0CD8D0"/>
<path d="M543,3 L579,3 L579,67.4 L564.6,66 L563,61 L554,61.7 L552,60Z" fill="#FFF0C8"/>
<path d="M341,3 L392,3 L392,6.5 L341,7.5Z" fill="#FFF0C8"/>
<path d="M349,483 L390,479.5 L440,476 L480,472.5 L516,469 L550,464.5 L579,460.5 L579,483Z" fill="#FFF0C8"/>
</g>
<path d="M128.4,63.3 L123.4,75 L118.4,88.4 L120.1,101.7 L118.4,113.4 L115.1,116.8" fill="none" stroke="#A81410" stroke-width="1.25"/>
<path d="M80,110.1 L93.4,107.8 L106.7,105.1 L115.1,103.4 L118.4,113.4" fill="none" stroke="#A81410" stroke-width="1.25"/>
<path d="M148.5,75 L145.1,81.7 L151.8,90.1 L156.8,95.1 L151.8,101.7 L155.2,108.4 L148.5,116.8 L151.8,123.4 L156.8,131.8" fill="none" stroke="#A81410" stroke-width="1.25"/>
<path d="M103.4,120.1 L110.1,116.8 L118.4,118.4 L125.1,125.1 L135.1,126.8 L143.5,121.8 L148.5,116.8" fill="none" stroke="#A81410" stroke-width="1.25"/>
<path d="M103.4,120.1 L106.7,130.1 L103.4,138.5 L106.7,143.5" fill="none" stroke="#A81410" stroke-width="1.25"/>
<path d="M83.4,145.1 L91.7,140.1 L103.4,138.5" fill="none" stroke="#A81410" stroke-width="1.25"/>
<path d="M106.7,143.5 L106.7,150.2 L113.4,151.8 L123.4,148.5 L131.8,151.8 L143.5,146.8 L148.5,136.8" fill="none" stroke="#A81410" stroke-width="1.25"/>
<path d="M156.8,131.8 L151.8,135.1 L148.5,136.8" fill="none" stroke="#A81410" stroke-width="1.25"/>
<path d="M148.5,136.8 L160.2,136.8 L175.2,138.5 L186.9,140.1 L198.6,143.5 L203.6,148.5" fill="none" stroke="#A81410" stroke-width="1.25"/>
<path d="M155.2,108.4 L163.5,101.7 L175.2,98.4 L185.2,101.7 L193.5,98.4 L203.6,96.7 L213.6,93.4 L223.6,90.1 L233.6,91.7" fill="none" stroke="#A81410" stroke-width="1.25"/>
<path d="M223.6,90.1 L221.9,105.1 L220.3,121.8 L216.9,135.1 L206.9,135.1 L203.6,148.5" fill="none" stroke="#A81410" stroke-width="1.25"/>
<path d="M231.9,83.4 L233.6,91.7 L242,100.1 L243.6,111.8 L240.3,126.8 L248.6,141.8 L253.6,150.2 L250.3,158.5" fill="none" stroke="#A81410" stroke-width="1.25"/>
<path d="M242,100.1 L253.6,105.1 L263.7,101.7 L270,105.1" fill="none" stroke="#A81410" stroke-width="1.25"/>
<path d="M203.6,148.5 L205.2,165.2 L206.9,185.2" fill="none" stroke="#A81410" stroke-width="1.25"/>
<path d="M216.9,135.1 L216.9,151.8 L230.3,155.2 L233.6,168.5 L231.9,180.2 L226.9,186.9 L211.9,186.9 L206.9,185.2" fill="none" stroke="#A81410" stroke-width="1.25"/>
<path d="M250.3,158.5 L242,165.2 L233.6,168.5" fill="none" stroke="#A81410" stroke-width="1.25"/>
<path d="M148.5,136.8 L160.2,146.8 L163.5,161.8 L173.5,165.2 L170.2,173.5 L165.2,180.2 L150.1,190.2 L148.5,201.9 L150.1,221.9" fill="none" stroke="#A81410" stroke-width="1.25"/>
<path d="M165.2,180.2 L176.9,183.5 L193.5,181.9 L206.9,185.2" fill="none" stroke="#A81410" stroke-width="1.25"/>
<path d="M211.9,186.9 L208.6,198.6 L203.6,211.9 L196.9,221.9" fill="none" stroke="#A81410" stroke-width="1.25"/>
<path d="M226.9,186.9 L231.9,198.6 L236.9,208.6 L242,213.6 L233.6,221.9" fill="none" stroke="#A81410" stroke-width="1.25"/>
<path d="M242,213.6 L252,205.2 L260.3,198.6 L270,193.6" fill="none" stroke="#A81410" stroke-width="1.25"/>
<path d="M250.3,158.5 L253.6,165.2 L260.3,171.9 L270,168.5" fill="none" stroke="#A81410" stroke-width="1.25"/>
<path d="M301.7,83.4 L303.4,91.7 L300.1,100.1 L290,101.7 L285,98.4" fill="none" stroke="#A81410" stroke-width="1.25"/>
<path d="M260,95.1 L270,90.1 L278.4,93.4 L285,98.4 L276.7,105.1 L280,111.8 L280,118.4" fill="none" stroke="#A81410" stroke-width="1.25"/>
<path d="M303.4,88.4 L315.1,86.7 L326.8,86.7" fill="none" stroke="#A81410" stroke-width="1.25"/>
<path d="M326.8,86.7 L335.1,88.4 L340.1,95.1 L348.5,96.7 L360.2,101.7 L370.2,105.1 L380.2,108.4 L390.2,110.1 L400.2,113.4 L410.2,113.4 L420.3,110.1 L433.6,108.4 L445.3,116.8 L453.6,116.8 L460.3,115.1 L470,116.8" fill="none" stroke="#A81410" stroke-width="1.25"/>
<path d="M360.2,101.7 L356.8,111.8 L360.2,121.8 L358.5,131.8 L360.2,141.8 L370.2,151.8" fill="none" stroke="#A81410" stroke-width="1.25"/>
<path d="M280,118.4 L293.4,123.4 L306.7,125.1 L316.8,130.1 L326.8,135.1 L331.8,138.5 L325.1,143.5 L331.8,148.5 L341.8,148.5 L343.5,138.5 L340.1,131.8 L343.5,120.1 L353.5,113.4 L358.5,111.8" fill="none" stroke="#A81410" stroke-width="1.25"/>
<path d="M300.1,100.1 L306.7,108.4 L303.4,116.8 L306.7,125.1" fill="none" stroke="#A81410" stroke-width="1.25"/>
<path d="M270,148.5 L283.4,145.1 L293.4,143.5 L303.4,140.1 L313.4,143.5 L325.1,153.5 L328.4,161.8 L316.8,171.9 L315.1,183.5 L326.8,188.5 L336.8,195.2" fill="none" stroke="#A81410" stroke-width="1.25"/>
<path d="M280,118.4 L275,131.8 L270,148.5 L266.7,168.5 L275,180.2 L290,181.9 L300.1,188.5 L310.1,190.2 L315.1,183.5" fill="none" stroke="#A81410" stroke-width="1.25"/>
<path d="M275,180.2 L270,195.2 L273.4,211.9 L283.4,221.9" fill="none" stroke="#A81410" stroke-width="1.25"/>
<path d="M336.8,195.2 L335.1,208.6 L338.5,221.9" fill="none" stroke="#A81410" stroke-width="1.25"/>
<path d="M341.8,148.5 L346.8,155.2 L360.2,141.8" fill="none" stroke="#A81410" stroke-width="1.25"/>
<path d="M370.2,151.8 L388.5,171.9 L400.2,171.9 L405.2,168.5" fill="none" stroke="#A81410" stroke-width="1.25"/>
<path d="M413.6,116.8 L411.9,131.8 L403.6,151.8 L405.2,168.5" fill="none" stroke="#A81410" stroke-width="1.25"/>
<path d="M336.8,195.2 L346.8,186.9 L360.2,183.5 L371.8,175.2 L375.2,180.2 L386.9,183.5 L401.9,186.9" fill="none" stroke="#A81410" stroke-width="1.25"/>
<path d="M405.2,168.5 L401.9,186.9 L403.6,201.9 L411.9,205.2 L415.2,206.9" fill="none" stroke="#A81410" stroke-width="1.25"/>
<path d="M405.2,168.5 L420.3,171.9 L433.6,161.8 L442,160.2 L450.3,175.2" fill="none" stroke="#A81410" stroke-width="1.25"/>
<path d="M442,160.2 L438.6,148.5 L447,138.5 L453.6,121.8 L453.6,116.8" fill="none" stroke="#A81410" stroke-width="1.25"/>
<path d="M401.9,186.9 L393.5,195.2 L386.9,201.9 L383.5,211.9 L385.2,221.9" fill="none" stroke="#A81410" stroke-width="1.25"/>
<path d="M149.8,200 L150.8,219 L141.8,228.7 L146.1,241 L141.8,253.4 L121.8,254.4 L128.4,265.1 L135.1,270.1 L140.1,281.8 L131.8,295.1 L128.4,311.8 L136.8,323.5 L126.8,333.5 L118.4,345.2 L116.8,358.6 L120.1,371.9" fill="none" stroke="#A81410" stroke-width="1.25"/>
<path d="M141.8,228.7 L153.5,226.7 L166.8,220 L175.2,218.3 L183.5,226.7 L193.5,230 L201.9,236.7 L216.9,231.7 L230.3,230 L240.3,226.7 L247,230 L263.7,240 L255.3,245.7" fill="none" stroke="#A81410" stroke-width="1.25"/>
<path d="M201.9,236.7 L200.2,246.7 L208.6,255.1 L206.9,265.1 L216.9,270.1" fill="none" stroke="#A81410" stroke-width="1.25"/>
<path d="M128.4,265.1 L140.1,266.7 L148.5,275.1 L163.5,280.1 L173.5,285.1 L186.9,281.8 L203.6,275.1 L216.9,270.1" fill="none" stroke="#A81410" stroke-width="1.25"/>
<path d="M216.9,270.1 L223.6,265.1 L231.9,263.4 L247,265.1 L248.6,273.4 L260.3,276.8 L270,275.1" fill="none" stroke="#A81410" stroke-width="1.25"/>
<path d="M216.9,270.1 L225.3,278.4 L216.9,286.8 L215.2,301.8" fill="none" stroke="#A81410" stroke-width="1.25"/>
<path d="M215.2,301.8 L203.6,305.1 L191.9,315.2 L193.5,328.5" fill="none" stroke="#A81410" stroke-width="1.25"/>
<path d="M215.2,301.8 L230.3,310.2 L242,318.5 L257,316.8 L270,315.2" fill="none" stroke="#A81410" stroke-width="1.25"/>
<path d="M242,318.5 L245.3,331.9 L242,346.9 L250.3,363.6 L260.3,368.6" fill="none" stroke="#A81410" stroke-width="1.25"/>
<path d="M193.5,328.5 L186.9,326.8 L176.9,335.2 L170.2,336.9 L160.2,331.9 L148.5,328.5 L140.1,323.5 L136.8,323.5" fill="none" stroke="#A81410" stroke-width="1.25"/>
<path d="M276.7,215 L281.7,228.4 L283.4,238.4 L273.4,239 L265,238.4 L260,241.7" fill="none" stroke="#A81410" stroke-width="1.25"/>
<path d="M283.4,238.4 L286.7,251.7 L290,265.1 L291.7,270.1" fill="none" stroke="#A81410" stroke-width="1.25"/>
<path d="M260,276.8 L270,270.1 L280,266.7 L291.7,270.1" fill="none" stroke="#A81410" stroke-width="1.25"/>
<path d="M291.7,270.1 L303.4,273.4 L316.8,275.1 L330.1,271.8 L341.8,266.7" fill="none" stroke="#A81410" stroke-width="1.25"/>
<path d="M341.8,266.7 L343.5,255.1 L351.8,248.4 L350.1,238.4 L343.5,231.7 L335.1,225 L328.4,215" fill="none" stroke="#A81410" stroke-width="1.25"/>
<path d="M350.1,238.4 L360.2,240 L366.8,245 L375.2,250.1 L388.5,248.4" fill="none" stroke="#A81410" stroke-width="1.25"/>
<path d="M341.8,266.7 L353.5,271.8 L355.2,285.1 L360.2,291.8 L365.2,298.5" fill="none" stroke="#A81410" stroke-width="1.25"/>
<path d="M365.2,298.5 L376.9,295.1 L386.9,291.8 L396.9,290.1 L406.9,293.5" fill="none" stroke="#A81410" stroke-width="1.25"/>
<path d="M365.2,298.5 L361.8,308.5 L360.2,318.5 L363.5,328.5 L368.5,340.2 L375.2,350.2" fill="none" stroke="#A81410" stroke-width="1.25"/>
<path d="M363.5,300.1 L356.8,298.5 L348.5,302.5 L346.1,315.2 L340.1,319.2 L328.4,319.2 L316.8,326.8 L310.1,330.2" fill="none" stroke="#A81410" stroke-width="1.25"/>
<path d="M291.7,270.1 L295.1,281.8 L293.4,290.1 L300.1,301.8 L298.4,311.8" fill="none" stroke="#A81410" stroke-width="1.25"/>
<path d="M260,316.8 L276.7,313.5 L288.4,313.5 L298.4,311.8" fill="none" stroke="#A81410" stroke-width="1.25"/>
<path d="M298.4,311.8 L308.4,320.2 L310.1,330.2" fill="none" stroke="#A81410" stroke-width="1.25"/>
<path d="M310.1,330.2 L303.4,336.9 L295.1,343.5 L291.7,353.6 L280,355.2 L270,356.9 L260,361.9" fill="none" stroke="#A81410" stroke-width="1.25"/>
<path d="M310.1,330.2 L316.8,338.5 L326.8,341.9 L328.4,355.2 L335.1,363.6" fill="none" stroke="#A81410" stroke-width="1.25"/>
<path d="M316.8,338.5 L313.4,348.5 L303.4,361.9 L301.7,375.3 L293.4,380.3" fill="none" stroke="#A81410" stroke-width="1.25"/>
<path d="M170.1,340 L156.7,346.7 L155,351.7 L160,365.1 L161.7,381.8 L160,390.1 L156.7,395.1" fill="none" stroke="#A81410" stroke-width="1.25"/>
<path d="M191.8,331.7 L196.8,345 L201.8,351.7 L211.8,351.7 L216.8,365.1 L223.5,370.1 L225.2,375.1" fill="none" stroke="#A81410" stroke-width="1.25"/>
<path d="M160,390.1 L173.4,390.1 L190.1,385.1 L196.8,386.8 L206.8,381.8 L216.8,376.8 L225.2,375.1" fill="none" stroke="#A81410" stroke-width="1.25"/>
<path d="M206.8,381.8 L200.1,391.8 L198.4,401.8 L190.1,406.8 L196.8,411.8 L200.1,423.5 L196.8,430.2" fill="none" stroke="#A81410" stroke-width="1.25"/>
<path d="M225.2,375.1 L236.8,371.8 L241.8,375.1 L250.2,366.7 L263.5,361.7 L276.9,356.7 L290.3,353.4 L296.9,343.4 L303.6,338.4 L312,335.7" fill="none" stroke="#A81410" stroke-width="1.25"/>
<path d="M241.8,375.1 L245.2,385.1 L258.5,393.5 L260.2,396.8" fill="none" stroke="#A81410" stroke-width="1.25"/>
<path d="M243.5,316.7 L241.8,335 L245.2,355.1 L250.2,366.7" fill="none" stroke="#A81410" stroke-width="1.25"/>
<path d="M470,117 L478,113 L486,112 L492,115 L497,116" fill="none" stroke="#A81410" stroke-width="1.25"/>
<path d="M341,24 L344,18.5 L348,23.5Z" fill="#FFFFFF"/>
<path d="M543.5,4 L552.5,61" fill="none" stroke="#1C50D0" stroke-width="1.2" stroke-dasharray="3 2"/>
<path d="M341,24 L344,18.5 L348,23.5 L341,24" fill="none" stroke="#A81410" stroke-width="1.25"/>
<path d="M341,3 L340,36 L338,56 L335,74 L332,79 L330,82 L323,84 L313,87 L306,86.5 L302,84.5 L292,80.4 L280,85.6 L272,82 L266,78.4 L257,79 L246,82.4 L234,83 L223,81 L210,77 L195,74.4 L190,70 L183,74 L152,73.6 L143,72.4 L137,64.4 L129,61.6 L122,62.4 L115,66.4 L107,71 L108,78 L100,80 L90,80 L84,83 L76,87 L72.4,92 L73,99 L78,103 L86,103 L79,108 L79,116 L90,115 L83,120 L92,123 L85,129 L83,136 L82,154 L85,180 L87,185 L85,202 L80,214 L75,226 L73,240 L66,254 L55,266 L54,276 L50,280 L46,290 L48,295 L58,294 L63,287 L67,294 L57,298 L56,307 L66,305 L72,310 L71,318 L72,322 L70,327 L66,333 L69,338 L67,359 L62,370 L59,376 L70,373 L88,376 L98,381 L110,374 L120,373 L135,373 L146,380 L151,384 L156,391 L158,395 L156,399 L160,405 L164,410 L170,422 L180,427 L188,433 L196,430 L198,424 L203,415 L216,410 L227,408 L236,399 L248,397 L260,398 L272,400 L287,396 L300,400 L307,394 L315,392 L323,397 L327,394 L334,386 L336,372 L342,364 L351,358 L362,355 L376,351 L375,341 L378,330 L385,316 L390,310 L398,304 L408,297 L406,292 L396,288 L390,274 L386,263 L389,252 L393,242 L400,230 L409,220 L410,218 L413,209 L419,205 L425,200.4 L420,196 L426,188 L432,183 L440,179 L449,175 L464,170 L468,165 L476,158 L484,151 L492,147 L499,138 L500,130 L497,122 L501,118 L497,116 L495,110 L489,102 L487,92 L490,82 L495,75 L504,71 L511,64 L519,57.6 L526,59.6 L538,59 L540,61 L546,62.5 L551,59 L554,61.7 L563,61 L564.6,66 L579,67.4 L579,3 L341,3" fill="none" stroke="#A81410" stroke-width="1.25"/>
<path d="M160,483 L168,464 L175,443 L186,441 L194,437 L198,439 L198,448 L201,455 L208,464 L218,471 L232,475 L244,473 L253,471 L257,474 L262,469 L268,472 L280,472 L288,469 L291,461.6 L295,471 L298,477 L308,478 L315,475.6 L325,478 L338,476 L350,467 L359,464 L364,452 L372,445 L378,442 L384,444 L391,436 L396,435.6 L404,439 L409,436 L414,427 L424,417 L440,409 L444,404 L460,398 L474,395 L480,394.5 L498.4,389.2 L504,391.3 L513.6,386 L518.4,378.8 L522.4,377.2 L528,380.4 L532,377.5 L540.8,378 L548.8,372.4 L554.4,368.4 L563.2,367.6 L579,366 L579,483 L160,483" fill="none" stroke="#A81410" stroke-width="1.25"/>
<path d="M482.3,247.6 L492.4,239.2 L500.8,230.8 L510.4,227.2 L509.2,233.2 L512.8,236.8 L520,234.4 L522.4,241.6 L516.4,251.2 L510.4,259.6 L500.8,256 L496,248.8 L487.6,252.9 L482.3,247.6" fill="none" stroke="#A81410" stroke-width="1.25"/>
<path d="M532,220 L542.8,217.6 L550,222.4 L552.4,228.4 L542.8,225.5 L533.2,226 L532,220" fill="none" stroke="#A81410" stroke-width="1.25"/>
<path d="M444.4,282.4 L448,277 L451.6,274.5 L458.3,274 L457.6,280 L450.4,287.2 L445,286 L444.4,282.4" fill="none" stroke="#A81410" stroke-width="1.25"/>
<path d="M451.6,291 L453,293 L460,295 L458,296.8 L452,296 L451.6,291" fill="none" stroke="#A81410" stroke-width="1.25"/>
</g>
<g shape-rendering="auto">
<rect x="29" y="464" width="161" height="18" fill="#fff" shape-rendering="crispEdges"/>
<circle cx="37.8" cy="472.8" r="5.4" fill="none" stroke="#2E62D0" stroke-width="1"/>
<path d="M40.3,470.9 A3,3 0 1 0 40.3,474.7" fill="none" stroke="#2E62D0" stroke-width="1"/>
<text x="48.4" y="476" font-family="Liberation Sans, sans-serif" font-size="11" fill="#2E62D0" textLength="138" lengthAdjust="spacingAndGlyphs">Agencia Estatal de Meteorología</text>
<text x="510.5" y="472.2" font-family="Liberation Sans, sans-serif" font-size="18.5" font-weight="bold" fill="#fff" stroke="#fff" stroke-width="0.5" textLength="62.5" lengthAdjust="spacingAndGlyphs">aemet</text>
<g fill="none" stroke="#fff" stroke-linecap="round">
<path d="M486.5,459.5 C491,457 498,458.5 503,462" stroke-width="1.6"/>
<path d="M487.5,461.5 C492,460 498,461.5 502,465 C504,468 503,472 500,474" stroke-width="1.4"/>
<path d="M499,459.5 C503,459 506,459.5 508,459" stroke-width="1.3"/>
<path d="M498,462 C502,462.5 505,462 507.5,460.5" stroke-width="1.1"/>
<path d="M490.5,463.5 C489.5,467 490.5,471 494,472.5 C497,473.5 499.5,471.5 499.5,468.5 C499.5,465.5 497,463.5 494.5,464 C492.5,464.5 492,467 492.8,468.8 C493.6,470.4 495.8,470.6 496.8,469.2 C497.6,468 496.8,466.4 495.4,466.6" stroke-width="1.1"/>
<path d="M488,474.5 C491,474.5 494,475 497,474" stroke-width="1"/>
<circle cx="506.3" cy="469" r="0.7" fill="#fff" stroke="none"/>
</g>
<text x="406" y="494" font-family="Liberation Sans, sans-serif" font-size="8" font-weight="bold" fill="#F4F400">0°</text>
</g>
<rect x="28.5" y="3.5" width="550" height="479" fill="none" stroke="#000" stroke-width="1"/>
<g class="lg" shape-rendering="auto">
<rect x="583" y="12" width="18" height="15" fill="#803210" shape-rendering="crispEdges"/>
<rect x="583" y="27" width="18" height="14" fill="#A03030" shape-rendering="crispEdges"/>
<rect x="583" y="41" width="18" height="15" fill="#B03050" shape-rendering="crispEdges"/>
<rect x="583" y="56" width="18" height="14" fill="#C83070" shape-rendering="crispEdges"/>
<rect x="583" y="70" width="18" height="15" fill="#E03090" shape-rendering="crispEdges"/>
<rect x="583" y="85" width="18" height="14" fill="#FF30B0" shape-rendering="crispEdges"/>
<rect x="583" y="99" width="18" height="14" fill="#FF0000" shape-rendering="crispEdges"/>
<rect x="583" y="113" width="18" height="15" fill="#FF7800" shape-rendering="crispEdges"/>
<rect x="583" y="128" width="18" height="14" fill="#FF9800" shape-rendering="crispEdges"/>
<rect x="583" y="142" width="18" height="15" fill="#FFB800" shape-rendering="crispEdges"/>
<rect x="583" y="157" width="18" height="14" fill="#FFD800" shape-rendering="crispEdges"/>
<rect x="583" y="171" width="18" height="15" fill="#FFFF00" shape-rendering="crispEdges"/>
<rect x="583" y="186" width="18" height="14" fill="#C8FF00" shape-rendering="crispEdges"/>
<rect x="583" y="200" width="18" height="15" fill="#60FF60" shape-rendering="crispEdges"/>
<rect x="583" y="215" width="18" height="14" fill="#20A8A0" shape-rendering="crispEdges"/>
<rect x="583" y="229" width="18" height="15" fill="#14C0B8" shape-rendering="crispEdges"/>
<rect x="583" y="244" width="18" height="14" fill="#0CD8D0" shape-rendering="crispEdges"/>
<rect x="583" y="258" width="18" height="14" fill="#00F0F0" shape-rendering="crispEdges"/>
<rect x="583" y="272" width="18" height="15" fill="#1E90FF" shape-rendering="crispEdges"/>
<rect x="583" y="287" width="18" height="14" fill="#1C70E0" shape-rendering="crispEdges"/>
<rect x="583" y="301" width="18" height="15" fill="#1850C0" shape-rendering="crispEdges"/>
<rect x="583" y="316" width="18" height="14" fill="#183090" shape-rendering="crispEdges"/>
<rect x="583" y="330" width="18" height="15" fill="#181870" shape-rendering="crispEdges"/>
<text x="603.8" y="17.8">50</text>
<text x="603.8" y="32.3">44</text>
<text x="603.8" y="46.7">42</text>
<text x="603.8" y="61.2">40</text>
<text x="603.8" y="75.6">38</text>
<text x="603.8" y="90.1">36</text>
<text x="603.8" y="104.6">34</text>
<text x="603.8" y="119.0">32</text>
<text x="603.8" y="133.5">30</text>
<text x="603.8" y="147.9">28</text>
<text x="603.8" y="162.4">26</text>
<text x="603.8" y="176.9">24</text>
<text x="603.8" y="191.3">22</text>
<text x="603.8" y="205.8">20</text>
<text x="603.8" y="220.2">18</text>
<text x="603.8" y="234.7">16</text>
<text x="603.8" y="249.2">14</text>
<text x="603.8" y="263.6">12</text>
<text x="603.8" y="278.1">10</text>
<text x="603.8" y="292.5">8</text>
<text x="603.8" y="307.0">6</text>
<text x="603.8" y="321.5">4</text>
<text x="603.8" y="335.9">2</text>
<text x="603.8" y="350.4">0</text>
<rect x="583" y="359" width="18" height="15" fill="#E0C8F0" shape-rendering="crispEdges"/>
<rect x="583" y="374" width="18" height="14" fill="#C098E8" shape-rendering="crispEdges"/>
<rect x="583" y="388" width="18" height="15" fill="#A060E0" shape-rendering="crispEdges"/>
<rect x="583" y="403" width="18" height="14" fill="#8828E0" shape-rendering="crispEdges"/>
<rect x="583" y="417" width="18" height="15" fill="#D02090" shape-rendering="crispEdges"/>
<rect x="583" y="432" width="18" height="14" fill="#B02890" shape-rendering="crispEdges"/>
<rect x="583" y="446" width="18" height="15" fill="#983090" shape-rendering="crispEdges"/>
<rect x="583" y="461" width="18" height="14" fill="#783890" shape-rendering="crispEdges"/>
<text x="603.8" y="364.8">-2</text>
<text x="603.8" y="379.3">-4</text>
<text x="603.8" y="393.8">-6</text>
<text x="603.8" y="408.3">-8</text>
<text x="603.8" y="422.8">-10</text>
<text x="603.8" y="437.3">-15</text>
<text x="603.8" y="451.8">-20</text>
<text x="603.8" y="466.3">-25</text>
<text x="603.8" y="480.8">-30</text>
</g>
</svg>
</body></html>
